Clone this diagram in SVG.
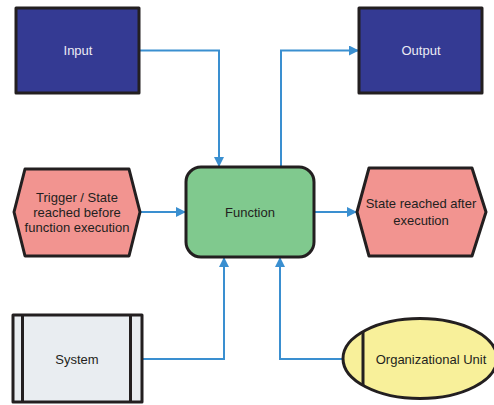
<svg xmlns="http://www.w3.org/2000/svg" width="494" height="405" viewBox="0 0 494 405">
<style>
.box{stroke:#231f20;stroke-width:3;stroke-linejoin:round}
.blue{fill:#343a93}
.lbl{font-family:"Liberation Sans",Arial,sans-serif;font-size:13px;fill:#231f20;text-anchor:middle;dominant-baseline:central}
.wt{fill:#ecebf4}
.conn{fill:none;stroke:#3a8fd0;stroke-width:2}
</style>
<defs>
<marker id="ah" viewBox="0 0 10 10" refX="10" refY="5" markerWidth="10" markerHeight="10" markerUnits="userSpaceOnUse" orient="auto">
<path d="M0,0 L10,5 L0,10 z" fill="#3a8fd0"/>
</marker>
</defs>
<g id="connectors">
<path class="conn" d="M139,50.5 H219 V167" marker-end="url(#ah)"/>
<path class="conn" d="M281,167 V50.5 H359" marker-end="url(#ah)"/>
<path class="conn" d="M140,212 H186" marker-end="url(#ah)"/>
<path class="conn" d="M314,212 H357" marker-end="url(#ah)"/>
<path class="conn" d="M142,359 H224 V257" marker-end="url(#ah)"/>
<path class="conn" d="M343,359 H280 V257" marker-end="url(#ah)"/>
</g>
<g id="input">
<rect class="box blue" x="16" y="8" width="123" height="85"/>
<text class="lbl wt" x="78" y="50.5">Input</text>
</g>
<g id="output">
<rect class="box blue" x="359" y="8" width="123" height="85"/>
<text class="lbl wt" x="421" y="50.5">Output</text>
</g>
<g id="function">
<rect class="box" x="186" y="167" width="128" height="90" rx="15" fill="#80c98e"/>
<text class="lbl" x="250" y="212">Function</text>
</g>
<g id="trigger">
<polygon class="box" points="14,212 25,169 129,169 140,212 129,256 25,256" fill="#f29490"/>
<text class="lbl" x="77" y="197">Trigger / State</text>
<text class="lbl" x="77" y="212">reached before</text>
<text class="lbl" x="77" y="227">function execution</text>
</g>
<g id="state-after">
<polygon class="box" points="357,212 369,168 472,168 486,212 472,256 369,256" fill="#f29490"/>
<text class="lbl" x="421" y="203">State reached after</text>
<text class="lbl" x="421" y="220">execution</text>
</g>
<g id="system">
<rect class="box" x="13" y="315" width="129" height="87" fill="#e9edf1"/>
<line class="box" x1="22.5" y1="315" x2="22.5" y2="402"/>
<line class="box" x1="130.5" y1="315" x2="130.5" y2="402"/>
<text class="lbl" x="77" y="359">System</text>
</g>
<g id="org-unit">
<ellipse class="box" cx="420" cy="358.5" rx="77" ry="40" fill="#f8f09a"/>
<line class="box" x1="363" y1="331" x2="363" y2="386"/>
<text class="lbl" x="431" y="359">Organizational Unit</text>
</g>
</svg>
